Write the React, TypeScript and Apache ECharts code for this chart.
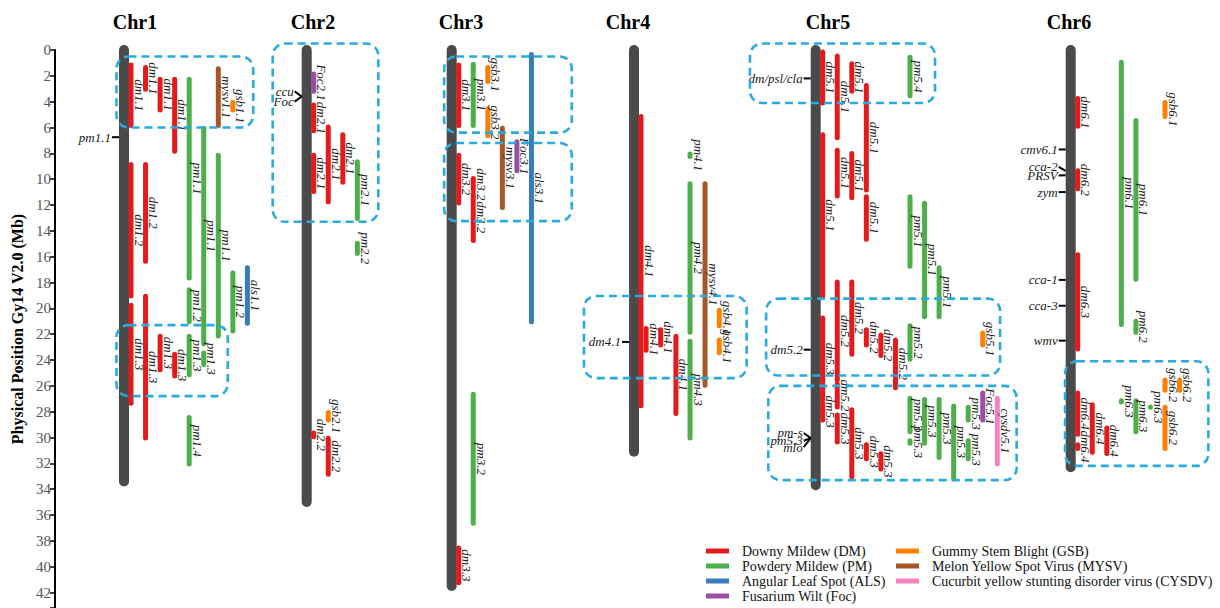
import React, { useEffect, useRef } from "react";
import * as echarts from "echarts";

// ---------------- DATA ----------------
const chromosomes = ["Chr1", "Chr2", "Chr3", "Chr4", "Chr5", "Chr6"];
const chromLengths = [33.4, 35.0, 41.5, 31.1, 33.7, 32.3];

const yTickValues = [0, 2, 4, 6, 8, 10, 12, 14, 16, 18, 20, 22, 24, 26, 28, 30, 32, 34, 36, 38, 40, 42];

const diseaseNames = [
  "Downy Mildew (DM)",
  "Powdery Mildew (PM)",
  "Angular Leaf Spot (ALS)",
  "Fusarium Wilt (Foc)",
  "Gummy Stem Blight (GSB)",
  "Melon Yellow Spot Virus (MYSV)",
  "Cucurbit yellow stunting disorder virus (CYSDV)",
];
const diseasePrefixes = ["dm", "pm", "als", "foc", "gsb", "mysv", "cysdv"];
const diseaseColors = ["#e41a1c", "#4daf4a", "#377eb8", "#984ea3", "#ff7f00", "#a65628", "#f781bf"];

// [label, track, start Mb, end Mb]
const chr1Qtl: [string, number, number, number][] = [
  ["dm1.1", 1, 1.0, 6.0],
  ["dm1.1", 2, 1.2, 3.2],
  ["dm1.1", 3, 2.1, 4.8],
  ["dm1.1", 4, 2.1, 8.0],
  ["pm1.1", 5, 2.1, 17.8],
  ["pm1.1", 6, 5.9, 22.9],
  ["pm1.1", 7, 8.0, 22.3],
  ["mysv1.1", 7, 1.3, 6.0],
  ["gsb1.1", 8, 3.9, 4.8],
  ["dm1.2", 1, 8.7, 19.2],
  ["dm1.3", 1, 19.6, 27.5],
  ["dm1.2", 2, 8.7, 16.5],
  ["dm1.3", 2, 18.9, 30.2],
  ["dm1.3", 3, 22.0, 24.9],
  ["dm1.3", 4, 23.4, 25.4],
  ["pm1.2", 5, 18.4, 21.2],
  ["pm1.3", 5, 22.0, 25.3],
  ["pm1.3", 6, 23.3, 24.5],
  ["pm1.2", 8, 17.1, 21.9],
  ["als1.1", 9, 16.7, 21.3],
  ["pm1.4", 5, 28.3, 32.2],
];

const chr2Qtl: [string, number, number, number][] = [
  ["Foc2.1", 1, 1.7, 3.35],
  ["dm2.1", 1, 4.1, 6.4],
  ["dm2.1", 1, 8.0, 11.1],
  ["dm2.1", 2, 5.8, 11.9],
  ["dm2.1", 3, 6.4, 10.4],
  ["pm2.1", 4, 8.5, 13.2],
  ["pm2.2", 4, 14.8, 15.9],
  ["gsb2.1", 2, 27.9, 28.8],
  ["dm2.2", 1, 29.5, 30.1],
  ["dm2.2", 2, 29.9, 33.0],
];

const chr3Qtl: [string, number, number, number][] = [
  ["dm3.1", 1, 1.0, 6.0],
  ["pm3.1", 2, 0.95, 6.0],
  ["gsb3.1", 3, 1.2, 2.6],
  ["gsb3.2", 3, 4.4, 6.8],
  ["mysv3.1", 4, 5.9, 12.35],
  ["Foc3.1", 5, 6.95, 9.5],
  ["als3.1", 6, 0.2, 21.2],
  ["dm3.2", 1, 8.0, 12.0],
  ["dm3.2", 2, 9.8, 11.0],
  ["dm3.2", 2, 11.0, 14.9],
  ["pm3.2", 2, 26.5, 36.8],
  ["dm3.3", 1, 38.4, 41.4],
];

const chr4Qtl: [string, number, number, number][] = [
  ["dm4.1", 1, 5.0, 27.7],
  ["dm4.1", 1.35, 21.4, 23.4],
  ["dm4.1", 2.35, 21.5, 23.0],
  ["dm4.1", 3.4, 22.0, 28.3],
  ["pm4.1", 4.37, 7.9, 8.4],
  ["pm4.2", 4.37, 10.2, 22.0],
  ["pm4.3", 4.37, 22.4, 30.2],
  ["mysv4.1", 5.4, 10.2, 26.1],
  ["gsb4.1", 6.38, 20.0, 21.5],
  ["gsb4.1", 6.38, 22.3, 23.6],
];

const chr5Qtl: [string, number, number, number][] = [
  ["dm5.1", 1, 0.0, 4.25],
  ["dm5.1", 2, 0.3, 6.95],
  ["dm5.1", 3, 0.9, 3.35],
  ["dm5.1", 4, 2.6, 11.0],
  ["dm5.1", 4, 11.2, 14.8],
  ["dm5.1", 1, 6.4, 19.2],
  ["dm5.1", 2, 7.6, 11.45],
  ["dm5.1", 3, 7.85, 11.6],
  ["pm5.4", 7, 0.4, 3.7],
  ["pm5.1", 7, 11.2, 16.9],
  ["pm5.1", 8, 11.7, 20.8],
  ["pm5.1", 9, 16.7, 20.8],
  ["dm5.2", 2, 17.8, 25.7],
  ["dm5.2", 2, 25.7, 27.8],
  ["dm5.2", 3, 17.8, 23.7],
  ["dm5.2", 4, 21.5, 23.0],
  ["dm5.2", 5, 21.9, 23.8],
  ["dm5.2", 6, 22.3, 26.3],
  ["dm5.3", 1, 20.6, 27.2],
  ["dm5.3", 1, 27.2, 28.8],
  ["dm5.3", 2, 28.1, 30.5],
  ["dm5.3", 3, 27.7, 33.2],
  ["dm5.3", 4, 30.4, 31.8],
  ["dm5.3", 5, 31.1, 32.6],
  ["pm5.2", 7, 21.2, 24.1],
  ["gsb5.1", 12, 21.75, 23.0],
  ["pm5.3", 7, 26.8, 29.7],
  ["pm5.3", 7, 30.1, 30.6],
  ["pm5.3", 8, 26.9, 30.6],
  ["pm5.3", 9, 26.9, 31.7],
  ["pm5.3", 10, 27.4, 33.3],
  ["pm5.3", 11, 27.5, 28.8],
  ["pm5.3", 11, 30.1, 31.8],
  ["Foc5.1", 12, 26.4, 28.8],
  ["cysdv5.1", 13, 26.8, 32.2],
];

const chr6Qtl: [string, number, number, number][] = [
  ["dm6.1", 1, 3.6, 6.05],
  ["dm6.2", 1, 9.2, 10.9],
  ["dm6.3", 1, 15.7, 23.3],
  ["pm6.1", 4, 0.8, 21.4],
  ["pm6.1", 5, 5.3, 17.9],
  ["pm6.2", 5, 20.85, 22.0],
  ["gsb6.1", 7, 3.9, 5.3],
  ["dm6.4", 1, 26.4, 29.9],
  ["dm6.4", 1, 30.4, 31.0],
  ["dm6.4", 2, 27.3, 31.3],
  ["dm6.4", 3, 29.1, 31.4],
  ["pm6.3", 4, 27.0, 27.4],
  ["pm6.3", 5, 27.0, 29.7],
  ["pm6.3", 6, 27.5, 27.8],
  ["gsb6.2", 7, 25.4, 26.5],
  ["gsb6.2", 7, 27.5, 31.0],
  ["gsb6.2", 8, 25.4, 26.5],
];

const qtlByChrom = [chr1Qtl, chr2Qtl, chr3Qtl, chr4Qtl, chr5Qtl, chr6Qtl];

// [chromosome index, gene label, position Mb, label position Mb]
const geneMarkers: [number, string, number, number][] = [
  [0, "pm1.1", 6.75, 6.75],
  [1, "ccu", 3.6, 3.2],
  [1, "Foc", 3.6, 4.0],
  [3, "dm4.1", 22.6, 22.6],
  [4, "dm/psl/cla", 2.2, 2.2],
  [4, "dm5.2", 23.2, 23.2],
  [4, "pm-s", 30.05, 29.65],
  [4, "pm5.3", 30.05, 30.25],
  [4, "mlo", 30.05, 30.75],
  [5, "cmv6.1", 7.7, 7.7],
  [5, "cca-2", 9.35, 9.05],
  [5, "PRSV", 9.7, 9.72],
  [5, "zym", 11.0, 11.0],
  [5, "cca-1", 17.8, 17.8],
  [5, "cca-3", 19.8, 19.8],
  [5, "wmv", 22.5, 22.5],
];

// [chromosome index, track from, track to, start Mb, end Mb]
const clusterBoxes: [number, number, number, number, number][] = [
  [0, 0.0, 9.4, 0.5, 6.0],
  [0, 0.0, 7.65, 21.3, 26.8],
  [1, -1.82, 5.44, -0.5, 13.3],
  [2, 0.0, 8.77, 0.5, 6.4],
  [2, 0.0, 8.77, 7.2, 13.25],
  [3, -2.92, 8.26, 19.05, 25.4],
  [4, -4.0, 8.72, -0.5, 4.1],
  [4, -2.89, 13.19, 19.25, 25.2],
  [4, -2.74, 14.33, 26.0, 33.3],
  [5, 0.13, 9.98, 24.1, 32.2],
];

// ---------------- LAYOUT ----------------
const chromCenters = [124, 306.7, 451.7, 634, 815.7, 1070.7];
const titleCenters = [135, 313, 461, 628, 828, 1069];
const TRACK0 = 7;
const TRACK_STEP = 14.55;
const trackX = (c: number, t: number) => chromCenters[c] + TRACK0 + (t - 1) * TRACK_STEP;

const SERIF = "'Liberation Serif', 'Times New Roman', serif";

function prefixIndex(name: string) {
  const n = name.toLowerCase();
  // check longer prefixes first
  const order = [6, 5, 4, 3, 2, 1, 0];
  for (const i of order) if (n.startsWith(diseasePrefixes[i])) return i;
  return 0;
}

export default function App() {
  const ref = useRef<HTMLDivElement>(null);

  useEffect(() => {
    document.body.style.margin = "0";
    if (!ref.current) return;
    const chart = echarts.init(ref.current, null, { renderer: "svg" });

    const chromSeries: any = {
      type: "custom",
      name: "chromosomes",
      silent: true,
      z: 1,
      encode: { x: 0, y: [1, 2] },
      data: chromosomes.map((_, i) => [chromCenters[i], 0, chromLengths[i]]),
      renderItem: (params: any, api: any) => {
        const i = params.dataIndex;
        const p1 = api.coord([api.value(0), api.value(1)]);
        const p2 = api.coord([api.value(0), api.value(2)]);
        return {
          type: "group",
          children: [
            {
              type: "line",
              shape: { x1: p1[0], y1: p1[1], x2: p2[0], y2: p2[1] },
              style: { stroke: "#4a4a4a", lineWidth: 10, lineCap: "round" },
            },
            {
              type: "text",
              x: titleCenters[i],
              y: 22,
              style: {
                text: chromosomes[i],
                fontFamily: SERIF,
                fontWeight: "bold",
                fontSize: 20,
                fill: "#000",
                align: "center",
                verticalAlign: "middle",
              },
            },
          ],
        };
      },
    };

    const diseaseSeries: any[] = diseaseNames.map((dn, di) => {
      const items: { name: string; x: number; s: number; e: number }[] = [];
      qtlByChrom.forEach((list, c) =>
        list.forEach(([name, t, s, e]) => {
          if (prefixIndex(name) === di) items.push({ name, x: trackX(c, t), s, e });
        })
      );
      return {
        type: "custom",
        name: dn,
        z: 2,
        itemStyle: { color: diseaseColors[di] },
        encode: { x: 0, y: [1, 2] },
        data: items.map((it) => [it.x, it.s, it.e]),
        renderItem: (params: any, api: any) => {
          const it = items[params.dataIndex];
          const p1 = api.coord([api.value(0), api.value(1)]);
          const p2 = api.coord([api.value(0), api.value(2)]);
          return {
            type: "group",
            children: [
              {
                type: "line",
                shape: { x1: p1[0], y1: p1[1] + 2, x2: p2[0], y2: p2[1] - 2 },
                style: { stroke: diseaseColors[di], lineWidth: 5, lineCap: "round" },
              },
              {
                type: "text",
                x: p1[0] + 8,
                y: (p1[1] + p2[1]) / 2,
                rotation: -Math.PI / 2,
                style: {
                  text: it.name,
                  fontFamily: SERIF,
                  fontStyle: "italic",
                  fontSize: 13,
                  fill: "#1a1a1a",
                  align: "center",
                  verticalAlign: "middle",
                },
              },
            ],
          };
        },
      };
    });

    const markerSeries: any = {
      type: "custom",
      name: "markers",
      silent: true,
      z: 3,
      encode: { x: 0, y: [1, 2] },
      data: geneMarkers.map((m) => [chromCenters[m[0]], m[2], m[3]]),
      renderItem: (params: any, api: any) => {
        const m = geneMarkers[params.dataIndex];
        const p = api.coord([api.value(0), api.value(1)]);
        const pl = api.coord([api.value(0), api.value(2)]);
        return {
          type: "group",
          children: [
            {
              type: "line",
              shape: { x1: p[0] - 12, y1: pl[1], x2: p[0] - 5, y2: p[1] },
              style: { stroke: "#000", lineWidth: 2 },
            },
            {
              type: "text",
              x: p[0] - 13,
              y: pl[1],
              style: {
                text: m[1],
                fontFamily: SERIF,
                fontStyle: "italic",
                fontSize: 13,
                fill: "#1a1a1a",
                align: "right",
                verticalAlign: "middle",
              },
            },
          ],
        };
      },
    };

    const boxSeries: any = {
      type: "custom",
      name: "clusters",
      silent: true,
      z: 5,
      encode: { x: [0, 1], y: [2, 3] },
      data: clusterBoxes.map((b) => [trackX(b[0], b[1]), trackX(b[0], b[2]), b[3], b[4]]),
      renderItem: (params: any, api: any) => {
        const a = api.coord([api.value(0), api.value(2)]);
        const b = api.coord([api.value(1), api.value(3)]);
        return {
          type: "rect",
          shape: { x: a[0], y: a[1], width: b[0] - a[0], height: b[1] - a[1], r: 12 },
          style: { fill: "none", stroke: "#29abe2", lineWidth: 2.6, lineDash: [8, 5] },
        };
      },
    };

    const legendBase = {
      orient: "vertical" as const,
      top: 544,
      itemWidth: 23,
      itemHeight: 5,
      itemGap: 1,
      icon: "rect",
      padding: 0,
      selectedMode: false,
      textStyle: { fontFamily: SERIF, fontSize: 14, color: "#111", padding: [0, 0, 0, 8] },
    };

    chart.setOption({
      animation: false,
      backgroundColor: "#fff",
      grid: { left: 55, right: 0, top: 50, bottom: 0 },
      legend: [
        { ...legendBase, left: 706, data: diseaseNames.slice(0, 4) },
        { ...legendBase, left: 896, data: diseaseNames.slice(4) },
      ],
      xAxis: { type: "value", min: 55, max: 1220, show: false },
      yAxis: {
        type: "value",
        min: 0,
        max: 43.2,
        interval: 2,
        inverse: true,
        name: "Physical Position Gy14 V2.0 (Mb)",
        nameLocation: "middle",
        nameGap: 30,
        nameTextStyle: { fontFamily: SERIF, fontWeight: "bold", fontSize: 16, color: "#000" },
        axisLine: { show: true, lineStyle: { color: "#000", width: 2 } },
        axisTick: { show: true, length: 5, lineStyle: { color: "#000", width: 1.5 } },
        splitLine: { show: false },
        axisLabel: {
          color: "#555",
          fontSize: 15,
          fontFamily: SERIF,
          margin: 4,
          formatter: (v: number) => (yTickValues.includes(v) ? String(v) : ""),
        },
      },
      series: [chromSeries, ...diseaseSeries, markerSeries, boxSeries],
    });

    return () => chart.dispose();
  }, []);

  return <div ref={ref} style={{ width: 1220, height: 608 }} />;
}
